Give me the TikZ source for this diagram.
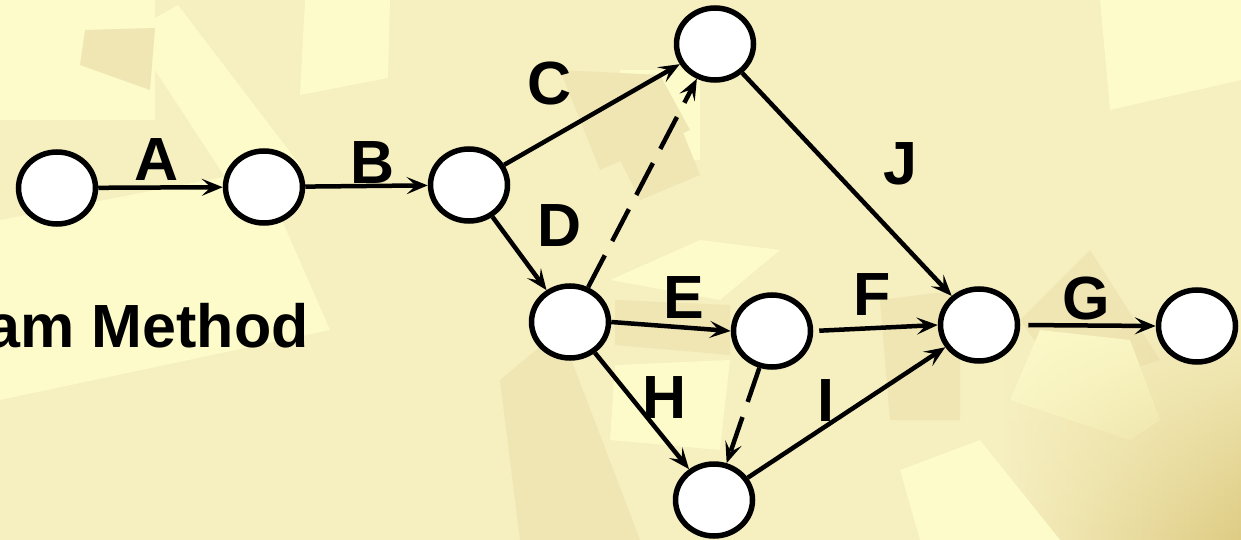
\documentclass[tikz,border=0pt]{standalone}
\usepackage{fontspec}
\setmainfont{Liberation Sans}
\usetikzlibrary{arrows.meta,shapes.geometric,fadings}
\definecolor{bgbase}{RGB}{246,239,192}
\definecolor{bglight}{RGB}{253,251,202}
\definecolor{bgdark}{RGB}{240,230,180}
\definecolor{bgdeep}{RGB}{222,204,132}
\tikzset{
  ev/.style={ellipse, draw=black, fill=white, line width=5.5pt, minimum width=77pt, minimum height=72pt, inner sep=0pt},
  act/.style={line width=4.5pt, -{Stealth[length=21pt,width=17pt,inset=9pt]}},
  dummy/.style={act, dash pattern=on 36pt off 16pt},
  lbl/.style={font=\fontsize{61}{61}\selectfont\bfseries, anchor=base, inner sep=0pt},
}
\begin{document}
\begin{tikzpicture}[x=1pt,y=-1pt]
\useasboundingbox (0,0) rectangle (1241,540);
% background
\fill[bgbase] (0,0) rectangle (1241,540);
\fill[bglight] (0,0) rectangle (155,120);
\fill[bglight] (130,32) -- (178,5) -- (300,165) -- (240,200) -- cycle;
\fill[bglight] (305,0) -- (390,0) -- (388,78) -- (300,95) -- cycle;
\fill[bglight] (0,220) -- (260,170) -- (330,330) -- (0,400) -- cycle;
\fill[bgdark] (85,30) -- (155,28) -- (150,90) -- (80,65) -- cycle;
\fill[bglight] (620,70) -- (700,70) -- (700,160) -- (620,160) -- cycle;
\fill[bgdark] (560,70) -- (660,75) -- (690,130) -- (600,170) -- cycle;
\fill[bgdark] (610,140) -- (680,125) -- (700,175) -- (640,200) -- cycle;
\fill[bglight] (610,280) -- (700,240) -- (780,250) -- (720,300) -- cycle;
\fill[bgdark] (615,300) -- (730,305) -- (730,355) -- (615,345) -- cycle;
\fill[bglight] (615,365) -- (730,360) -- (720,450) -- (610,440) -- cycle;
\fill[bgdark] (500,380) -- (560,330) -- (640,540) -- (520,540) -- cycle;
\fill[bgdark] (880,300) -- (960,290) -- (960,420) -- (890,420) -- cycle;
\fill[bglight] (1100,0) -- (1241,0) -- (1241,80) -- (1110,110) -- cycle;
\fill[bgdark] (1020,320) -- (1090,250) -- (1160,360) -- (1070,390) -- cycle;
\fill[bglight] (1010,400) -- (1130,440) -- (1160,420) -- (1130,340) -- (1040,330) -- cycle;
\shade[left color=bgbase, right color=bgdeep, path fading=north] (1000,300) rectangle (1241,540);
\fill[bglight] (900,470) -- (980,440) -- (1060,540) -- (920,540) -- cycle;
% events
\node[ev] (n1) at (57,188) {};
\node[ev] (n2) at (264,187) {};
\node[ev] (n3) at (469,185) {};
\node[ev] (n4) at (715,44) {};
\node[ev] (n5) at (570,322) {};
\node[ev] (n6) at (772,331) {};
\node[ev] (n7) at (714,500) {};
\node[ev] (n8) at (979,325) {};
\node[ev] (n9) at (1197,326) {};
% activities
\draw[act] (n1) -- (n2);
\draw[act] (n2) -- (n3);
\draw[act] (n3) -- (n4);
\draw[act] (n3) -- (n5);
\draw[dummy] (n5) -- (n4);
\draw[act] (n5.east) -- (n6.west);
\draw[act, shorten <=6pt] (n6.east) -- (n8.west);
\draw[act, shorten <=8pt] (n8.east) -- (n9.west);
\draw[act] (n4) -- (n8);
\draw[act] (n5) -- (n7);
\draw[dummy] (n6) -- (n7);
\draw[act] (n7) -- (n8);
% labels
\node[lbl] (la) at (157,180) {A};
\node[lbl] (lb) at (373,183) {B};
\node[lbl] (lc) at (550,105) {C};
\node[lbl] (ld) at (560,246) {D};
\node[lbl] (le) at (684,318) {E};
\node[lbl] (lf) at (872,315) {F};
\node[lbl] (lg) at (1086,319) {G};
\node[lbl] (lh) at (665,418) {H};
\node[lbl] (li) at (826,421) {I};
\node[lbl] (lj) at (900,185) {J};
\node[lbl, anchor=base east] (title) at (309,347) {am Method};
\end{tikzpicture}
\end{document}
